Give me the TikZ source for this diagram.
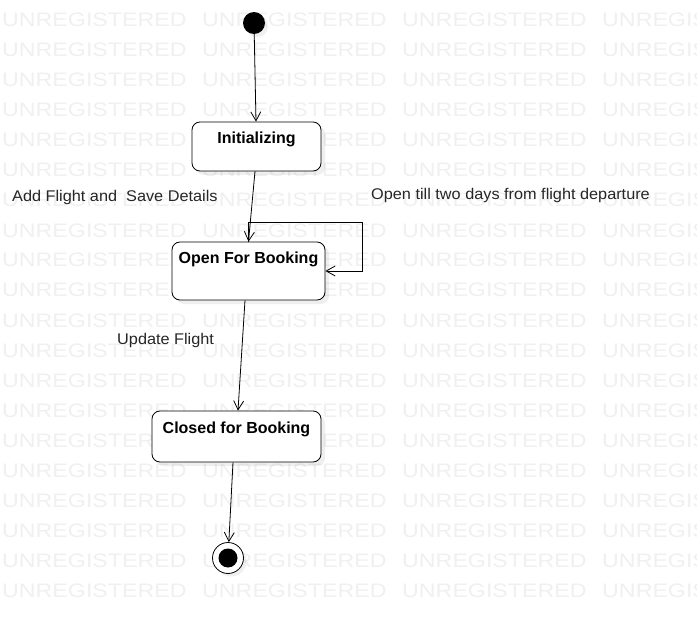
\documentclass[tikz,border=0pt]{standalone}
\usepackage{fontspec}
\setmainfont{Liberation Sans}
\usetikzlibrary{arrows.meta,shadows}

\tikzset{
	state/.style={draw, thick, rounded corners=8pt, fill=white,
		drop shadow={opacity=0.12, shadow xshift=4pt, shadow yshift=-4pt},
		font=\bfseries\fontsize{16}{18}\selectfont,
		inner xsep=0pt, inner ysep=0pt, minimum width=#1},
	arr/.style={-{Straight Barb[length=9pt,width=10pt]}},
	lbl/.style={font=\fontsize{15.5}{18}\selectfont, text=black!85, inner sep=0pt},
	wm/.style={font=\fontsize{19.5}{20}\selectfont, text=black!6, inner sep=0pt, anchor=base west, xscale=1.19}
}

\begin{document}
\begin{tikzpicture}[x=1pt,y=-1pt]
		\useasboundingbox (0,0) rectangle (697,623);
		\fill[white] (0,0) rectangle (697,623);
		
		% watermark
		\foreach \row in {0,...,19}
		\foreach \col in {0,...,3}
		\node[wm] at (2+200*\col,27+30*\row) {UNREGISTERED};
		
		% states
		\node[circle, fill=black, minimum size=22pt, inner sep=0pt,
		drop shadow={opacity=0.12, shadow xshift=3pt, shadow yshift=-3pt}] (start) at (254,23) {};
		\node[state=129pt, text height=21.3pt, text depth=27.7pt] (init) at (256.5,146.5) {Initializing};
		\node[state=153pt, text height=21.3pt, text depth=36.7pt] (open) at (248.5,271) {Open For Booking};
		\node[state=169pt, text height=22.3pt, text depth=28.7pt] (closed) at (236.5,436.5) {Closed for Booking};
		\node[circle, draw, thick, fill=white, minimum size=31pt, inner sep=0pt,
		drop shadow={opacity=0.12, shadow xshift=3pt, shadow yshift=-3pt}] (stop) at (228,558) {};
		\fill[black] (stop) circle (9.5);
		
		% transitions
		\draw[thick,arr] (start) -- (init);
		\draw[thick,arr] ([xshift=-1.5pt]init.south) -- (open.north);
		\coordinate (loop) at (362,222);
		\draw[thick,arr] (open.north) |- (loop) |- (open.east);
		\draw[thick,arr] ([xshift=-3.5pt]open.south) -- ([xshift=1.5pt]closed.north);
		\draw[thick,arr] ([xshift=-3.5pt]closed.south) -- (stop);
		
		% labels
		\node[lbl, anchor=west, xscale=1.05] (add) at (12,197) {Add Flight and\ \ Save Details};
		\node[lbl, anchor=west, xscale=1.05] (till) at (371,195) {Open till two days from flight departure};
		\node[lbl, anchor=west, xscale=1.05] (upd) at (117,340) {Update Flight};
\end{tikzpicture}
\end{document}
